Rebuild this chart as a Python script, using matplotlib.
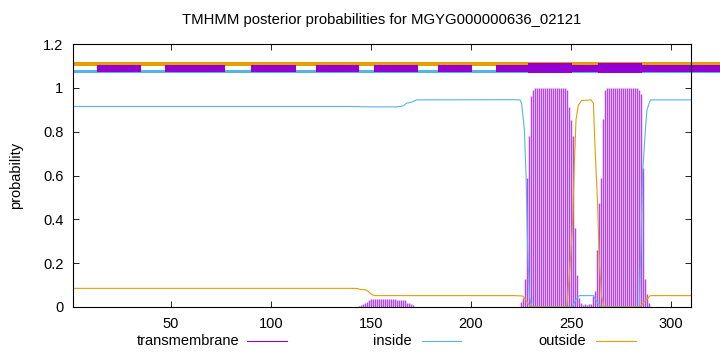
import numpy as np
import matplotlib
matplotlib.use("Agg")
import matplotlib.pyplot as plt
from matplotlib.lines import Line2D

plt.rcParams["font.family"] = ["Liberation Sans", "DejaVu Sans"]

# --- data ---
seq_len = 310

# inside probability (blue line): x, value
inside_x = [1, 140, 150, 163, 166.2, 167.8, 169.5, 171, 172.8, 222, 224.5, 225.3, 226.7, 227.5,
            228.3, 229.2, 230.3, 250.5, 251.2, 252.5, 254.2, 261.2, 263.2, 265.3, 284.2, 284.5,
            285.8, 287.2, 288, 289.7, 310]
inside_y = [0.915, 0.915, 0.913, 0.913, 0.918, 0.93, 0.933, 0.937, 0.945, 0.946, 0.945, 0.93,
            0.808, 0.61, 0.275, 0.05, 0, 0, 0.01, 0.035, 0.052, 0.052, 0.02, 0, 0, 0.123,
            0.61, 0.81, 0.9, 0.945, 0.945]

# outside probability (orange line)
outside_x = [1, 142, 143.7, 145, 147, 148.5, 149.5, 150.8, 152, 222, 226, 227.5, 229, 230,
             247.8, 248.3, 249.5, 250.7, 251.7, 252.5, 253.7, 255.3, 260, 261.2, 262, 263.2,
             264.2, 265.3, 266.5, 284.5, 287.2, 289.7, 310]
outside_y = [0.085, 0.085, 0.083, 0.079, 0.079, 0.073, 0.063, 0.055, 0.052, 0.052, 0.05, 0.03,
             0.01, 0, 0, 0.047, 0.184, 0.367, 0.656, 0.854, 0.922, 0.942, 0.945, 0.93, 0.73,
             0.49, 0.2, 0.05, 0, 0, 0.03, 0.052, 0.052]

# transmembrane probability (purple impulses), one per residue
tm_res = list(range(144, 172)) + list(range(225, 290))
tm_val = [0.005, 0.01, 0.015, 0.02, 0.025, 0.03,
          0.035, 0.035, 0.035, 0.035, 0.035, 0.035, 0.035, 0.035, 0.035, 0.035, 0.035, 0.035, 0.035,
          0.03, 0.03, 0.03, 0.03, 0.03, 0.02, 0.02, 0.013, 0.01,
          # 225..256
          0.024, 0.04, 0.128, 0.588, 0.781, 0.965, 0.991,
          1.0, 1.0, 1.0, 1.0, 1.0, 1.0, 1.0, 1.0, 1.0, 1.0, 1.0, 1.0, 1.0, 1.0, 1.0, 1.0,
          0.99, 0.912, 0.854, 0.778, 0.359, 0.146, 0.04, 0.02, 0.01,
          # 257..261
          0.012, 0.01, 0.012, 0.015, 0.05,
          # 262..289
          0.073, 0.26, 0.473, 0.59, 0.857, 0.99,
          1.0, 1.0, 1.0, 1.0, 1.0, 1.0, 1.0, 1.0, 1.0, 1.0, 1.0, 1.0, 1.0, 1.0, 1.0, 1.0,
          0.99, 0.97, 0.633, 0.126, 0.06, 0.02]

# predicted topology strip on top
dash_start = [13.2, 47.2, 90.2, 122.3, 151.4, 183.6, 212.6]
dash_end = [34.8, 76.9, 112.5, 144.2, 173.3, 200.4, 330]
helix_start = [228.4, 263.6]
helix_end = [250.3, 285.6]

purple = "#9400d3"
imp_purple = "#b446ee"
blue = "#56b4e9"
orange = "#e69f00"

fig = plt.figure(figsize=(7.2, 3.52), dpi=100)
ax = fig.add_axes([73 / 720, 45 / 352, 618 / 720, 263 / 352])

ax.vlines(tm_res, 0, tm_val, color=imp_purple, lw=1.05)
ax.plot(inside_x, inside_y, color=blue, lw=0.8)
ax.plot(outside_x, outside_y, color=orange, lw=0.8)

# top strip
b = ax.barh(1.1095, 330 - 1, left=1, height=0.019, color=orange, zorder=3)
b2 = ax.barh(1.075, 330 - 1, left=1, height=0.014, color=blue, zorder=3)
b3 = ax.barh([1.087] * len(dash_start), np.array(dash_end) - np.array(dash_start),
             left=dash_start, height=0.03, color=purple, zorder=4)
b4 = ax.barh([1.091] * len(helix_start), np.array(helix_end) - np.array(helix_start),
             left=helix_start, height=0.046, color=purple, zorder=5)
for bars in (b, b2, b3, b4):
    for r in bars:
        r.set_clip_on(False)

ax.set_xlim(1, seq_len)
ax.set_ylim(0, 1.2)
ax.set_xticks([50, 100, 150, 200, 250, 300])
ax.set_yticks([0, 0.2, 0.4, 0.6, 0.8, 1.0, 1.2])
ax.set_yticklabels(["0", "0.2", "0.4", "0.6", "0.8", "1", "1.2"])
ax.tick_params(direction="in", top=True, right=True, length=4, width=0.6,
               labelsize=10.5, pad=7)
for s in ax.spines.values():
    s.set_linewidth(0.8)
    s.set_zorder(6)

ax.set_ylabel("probability", fontsize=10.5, labelpad=14)
fig.text(382 / 720, 1 - 20 / 352, "TMHMM posterior probabilities for MGYG000000636_02121",
         ha="center", va="center", fontsize=10.7)

# legend along the bottom
leg_y = 1 - 341 / 352
items = [("transmembrane", 239, 247, 287, purple),
         ("inside", 412, 422, 461, blue),
         ("outside", 586, 596, 636, orange)]
for name, tx, x0, x1, col in items:
    fig.text(tx / 720, leg_y, name, ha="right", va="center", fontsize=10.5)
    fig.add_artist(Line2D([x0 / 720, x1 / 720], [leg_y, leg_y], color=col, lw=0.8))

fig.savefig("out.png", dpi=100)
